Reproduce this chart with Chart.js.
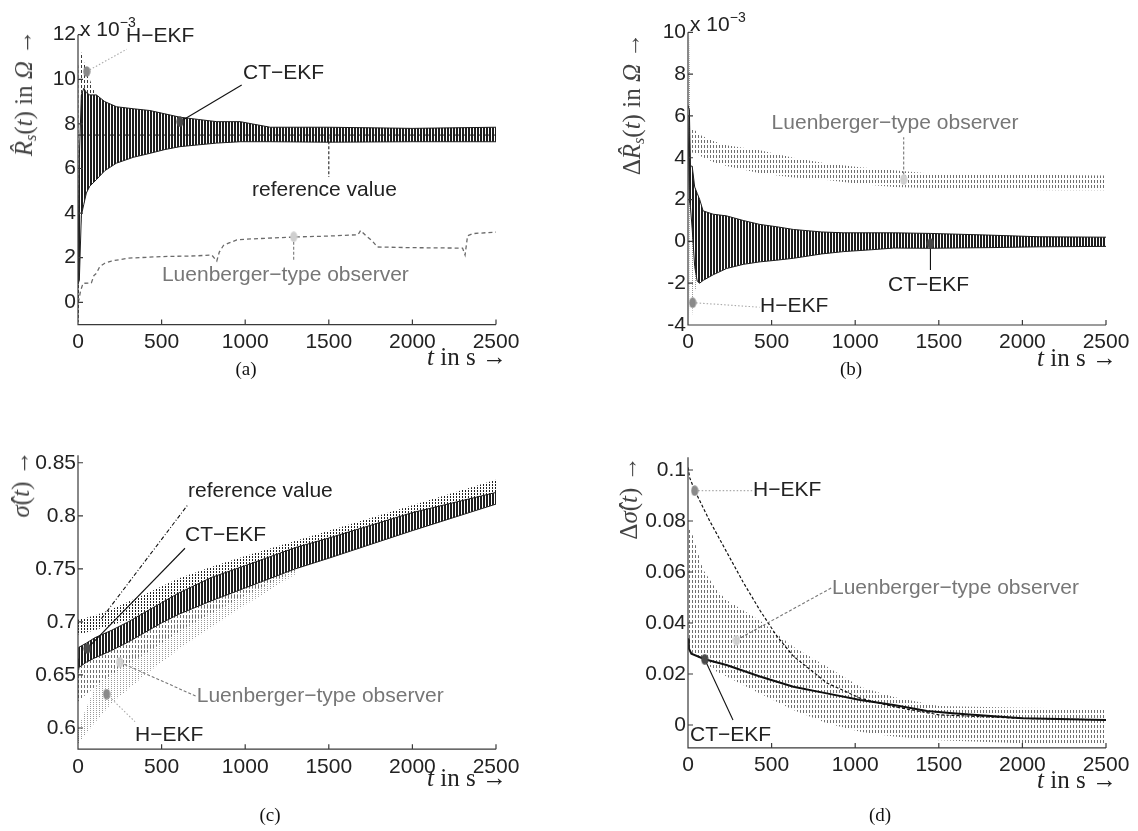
<!DOCTYPE html>
<html>
<head>
<meta charset="utf-8">
<script src="https://cdn.jsdelivr.net/npm/chart.js@4.4.1/dist/chart.umd.min.js"></script>
<style>
  body { margin: 0; background: #fff; }
  #fig { position: relative; width: 1138px; height: 831px; overflow: hidden; font-family: "Liberation Sans", Arial, sans-serif; }
  canvas { position: absolute; }
  .yt, .xt { position: absolute; font-family: "Liberation Serif", "Times New Roman", serif; font-size: 25px; white-space: nowrap; }
  .yt { transform: translate(-50%, -50%) rotate(-90deg); color: #444; }
  .xt { transform: translateY(-50%); color: #222; }
  .yt sub { font-size: 16px; vertical-align: -4px; }
  .cap { position: absolute; font-family: "Liberation Serif", serif; font-size: 19px; transform: translate(-50%, -50%); color: #111; }
  .ex { position: absolute; font-size: 21px; color: #222; transform: translateY(-50%); white-space: nowrap; }
  .ex sup { font-size: 14px; vertical-align: 9px; }
</style>
</head>
<body>
<div id="fig">
  <canvas id="ca" width="569" height="400" style="left:0;top:0"></canvas>
  <canvas id="cb" width="569" height="400" style="left:569px;top:0"></canvas>
  <canvas id="cc" width="569" height="431" style="left:0;top:400px"></canvas>
  <canvas id="cd" width="569" height="431" style="left:569px;top:400px"></canvas>

  <div class="yt" style="left:25px;top:93px"><i>R̂</i><sub><i>s</i></sub>(<i>t</i>) in <i>Ω</i> →</div>
  <div class="yt" style="left:633px;top:104px">Δ<i>R̂</i><sub><i>s</i></sub>(<i>t</i>) in <i>Ω</i> →</div>
  <div class="yt" style="left:21px;top:484px"><i>σ̂</i>(<i>t</i>) →</div>
  <div class="yt" style="left:629px;top:498px">Δ<i>σ̂</i>(<i>t</i>) →</div>

  <div class="xt" style="left:427px;top:357px"><i>t</i> in s →</div>
  <div class="xt" style="left:1037px;top:358px"><i>t</i> in s →</div>
  <div class="xt" style="left:427px;top:778px"><i>t</i> in s →</div>
  <div class="xt" style="left:1037px;top:780px"><i>t</i> in s →</div>

  <div class="ex" style="left:80px;top:27px">x 10<sup>−3</sup></div>
  <div class="ex" style="left:690px;top:22px">x 10<sup>−3</sup></div>

  <div class="cap" style="left:246px;top:369px">(a)</div>
  <div class="cap" style="left:851px;top:369px">(b)</div>
  <div class="cap" style="left:270px;top:815px">(c)</div>
  <div class="cap" style="left:880px;top:815px">(d)</div>
</div>
<script>
// ticks
const tickX = [0, 500, 1000, 1500, 2000, 2500];
const tickYA = [0, 2, 4, 6, 8, 10, 12];
const tickYB = [-4, -2, 0, 2, 4, 6, 8, 10];
const tickYC = [0.6, 0.65, 0.7, 0.75, 0.8, 0.85];
const tickYD = [0, 0.02, 0.04, 0.06, 0.08, 0.1];

// (a) R_s estimate (x 1e-3): oscillation envelopes lo/hi
const aCtT  = [0, 8, 20, 35, 50, 70, 110, 160, 230, 330, 430, 520, 610, 720, 830, 970, 1150, 1500, 2000, 2500];
const aCtLo = [0.8, 1.0, 3.9, 4.4, 4.9, 5.2, 5.5, 5.9, 6.24, 6.5, 6.68, 6.85, 6.98, 7.06, 7.14, 7.2, 7.2, 7.18, 7.2, 7.2];
const aCtHi = [1.3, 6.5, 9.3, 9.6, 9.4, 9.3, 9.3, 9.0, 8.77, 8.68, 8.6, 8.45, 8.3, 8.2, 8.1, 8.1, 7.85, 7.85, 7.8, 7.85];
const aHT  = [0, 4, 10, 20, 35, 52, 70, 100, 150, 200];
const aHLo = [-0.9, -0.9, 1.5, 4.0, 4.6, 5.2, 5.4, 5.6, 6.0, 6.3];
const aHHi = [0.8, 10.5, 11.3, 11.2, 10.8, 10.4, 10.0, 9.4, 9.0, 8.8];
const aRefT = [0, 2500];
const aRefV = [7.5, 7.5];
const aLuT = [0, 5, 15, 30, 80, 95, 110, 130, 160, 200, 300, 500, 700, 800, 830, 845, 870, 900, 950, 1000, 1300, 1500, 1675, 1690, 1720, 1760, 1790, 2000, 2300, 2315, 2330, 2360, 2500];
const aLuV = [0.0, 0.1, 0.5, 0.85, 0.87, 1.2, 1.3, 1.6, 1.75, 1.85, 1.98, 2.05, 2.08, 2.12, 1.85, 2.25, 2.55, 2.65, 2.8, 2.83, 2.93, 2.97, 3.03, 3.22, 3.0, 2.75, 2.48, 2.45, 2.43, 2.12, 2.98, 3.08, 3.15];

// (b) R_s error (x 1e-3)
const bCtT  = [0, 8, 15, 25, 40, 55, 70, 90, 150, 230, 330, 430, 530, 630, 800, 930, 1100, 1230, 1450, 1800, 2100, 2500];
const bCtLo = [6.0, 2.0, 1.6, 0.6, -1.2, -1.9, -2.0, -1.87, -1.6, -1.3, -1.1, -0.98, -0.9, -0.81, -0.6, -0.49, -0.4, -0.32, -0.33, -0.3, -0.26, -0.24];
const bCtHi = [6.5, 6.3, 3.6, 3.6, 2.6, 2.3, 2.0, 1.46, 1.3, 1.22, 1.0, 0.81, 0.7, 0.57, 0.45, 0.41, 0.41, 0.41, 0.38, 0.3, 0.22, 0.2];
const bHT  = [0, 6, 12, 20, 28, 40, 60, 90];
const bHLo = [8.5, 2.0, -3.8, -4.0, -3.2, -2.4, -2.0, -1.87];
const bHHi = [10, 10, 8.0, 4.5, 3.0, 2.6, 2.2, 1.46];
const bLuT  = [12, 30, 70, 150, 230, 430, 630, 830, 1030, 1230, 1430, 1800, 2200, 2500];
const bLuLo = [3.9, 4.3, 4.1, 3.8, 3.6, 3.26, 3.05, 2.93, 2.75, 2.6, 2.55, 2.48, 2.45, 2.45];
const bLuHi = [5.3, 5.4, 5.1, 4.8, 4.6, 4.36, 4.0, 3.73, 3.55, 3.4, 3.26, 3.2, 3.17, 3.15];

// (c) sigma estimate
const cRefT  = [0, 100, 200, 400, 600, 800, 1000, 1500, 2000, 2500];
const cRefLo = [0.688, 0.692, 0.697, 0.706, 0.716, 0.728, 0.74, 0.765, 0.79, 0.815];
const cRefHi = [0.702, 0.706, 0.712, 0.726, 0.741, 0.752, 0.762, 0.786, 0.81, 0.834];
const cCtT  = [0, 5, 50, 100, 200, 300, 400, 500, 600, 800, 1000, 1300, 1500, 2000, 2500];
const cCtLo = [0.655, 0.657, 0.662, 0.666, 0.673, 0.681, 0.69, 0.699, 0.707, 0.72, 0.732, 0.75, 0.76, 0.786, 0.811];
const cCtHi = [0.665, 0.676, 0.68, 0.685, 0.692, 0.70, 0.709, 0.718, 0.727, 0.742, 0.753, 0.77, 0.779, 0.803, 0.822];
const cLuT  = [0, 50, 150, 300, 500, 700, 1000, 1300];
const cLuLo = [0.625, 0.632, 0.645, 0.66, 0.68, 0.70, 0.725, 0.748];
const cLuHi = [0.665, 0.672, 0.68, 0.692, 0.71, 0.727, 0.75, 0.77];
const cHT  = [0, 100, 200, 400, 600, 800, 1000, 1300];
const cHLo = [0.585, 0.605, 0.623, 0.65, 0.674, 0.695, 0.716, 0.745];
const cHHi = [0.60, 0.638, 0.655, 0.68, 0.70, 0.72, 0.74, 0.765];

// (d) sigma error
const dHT = [0, 10, 40, 130, 230, 330, 430, 530, 630, 830, 1030, 1230, 1500, 2000, 2500];
const dHV = [0.101, 0.097, 0.092, 0.080, 0.068, 0.056, 0.045, 0.035, 0.027, 0.0165, 0.0105, 0.0072, 0.004, 0.0026, 0.002];
const dCtT = [0, 5, 20, 100, 230, 430, 630, 830, 1030, 1230, 1430, 1600, 2000, 2500];
const dCtV = [0.034, 0.030, 0.028, 0.0258, 0.0235, 0.019, 0.015, 0.0124, 0.0098, 0.0078, 0.0055, 0.0045, 0.0026, 0.002];
const dLuT  = [0, 10, 30, 90, 170, 230, 430, 630, 830, 1030, 1230, 1500, 2000, 2500];
const dLuHi = [0.077, 0.077, 0.074, 0.061, 0.053, 0.049, 0.041, 0.0307, 0.0229, 0.015, 0.011, 0.0075, 0.0068, 0.0065];
const dLuLo = [0.03, 0.029, 0.028, 0.025, 0.021, 0.019, 0.0124, 0.0059, 0.0007, -0.0026, -0.0045, -0.006, -0.0072, -0.0075];

// label markers: H-EKF, CT-EKF, Luenberger
const markAT = [52, 610, 1290],  markAV = [10.35, 8.1, 2.94];
const markBT = [28, 1450, 1290], markBV = [-2.93, -0.1, 2.96];
const markCT = [171, 56, 250],   markCV = [0.632, 0.675, 0.662];
const markDT = [40, 100, 290],   markDV = [0.0919, 0.0258, 0.0333];

const tickFont = { family: '"Liberation Sans", Arial, sans-serif', size: 21 };
const labelFont = '21px "Liberation Sans", Arial, sans-serif';
const axisColor = '#3a3a3a';
const dark = '#222', grey = '#777';

function pts(t, v) { return t.map((x, i) => ({ x: x, y: v[i] })); }

function stripe(color, w, on, h, hOn) {
  const c = document.createElement('canvas');
  c.width = w; c.height = h;
  const g = c.getContext('2d');
  g.fillStyle = color;
  g.fillRect(0, 0, on, hOn);
  return g.createPattern(c, 'repeat');
}
const ctPat = stripe('#1e1e1e', 3, 2, 1, 1);
const hPat = stripe('#9a9a9a', 3, 1, 2, 1);
const hDarkPat = stripe('#3c3c3c', 3, 1, 5, 3);
const luPat = stripe('#6f6f6f', 3, 1, 5, 3);
const refPat = stripe('#202020', 3, 1, 3, 2);

function ellipse(color) {
  const c = document.createElement('canvas');
  c.width = 8; c.height = 11;
  const g = c.getContext('2d');
  g.fillStyle = color;
  g.beginPath(); g.ellipse(4, 5.5, 3.6, 5.2, 0, 0, Math.PI * 2); g.fill();
  return c;
}
const markStyles = [ellipse('#8a8a8a'), ellipse('#4a4a4a'), ellipse('#cfcfcf')];

function band(t, lo, hi, pat, edge, ew) {
  return [
    { data: pts(t, hi), fill: '+1', backgroundColor: pat, borderColor: edge, borderWidth: ew, pointRadius: 0 },
    { data: pts(t, lo), fill: false, borderColor: edge, borderWidth: ew, pointRadius: 0 }
  ];
}
function line(t, v, color, w, dash) {
  return { data: pts(t, v), fill: false, borderColor: color, borderWidth: w, borderDash: dash, pointRadius: 0 };
}
function marks(t, v) {
  return { data: pts(t, v), showLine: false, pointStyle: markStyles, pointRadius: 5 };
}

const axes = {
  id: 'axes',
  afterDraw(chart) {
    const { ctx, chartArea: a, scales: { x, y } } = chart;
    ctx.save();
    ctx.strokeStyle = axisColor;
    ctx.lineWidth = 1.2;
    ctx.beginPath();
    ctx.moveTo(a.left, a.top); ctx.lineTo(a.left, a.bottom); ctx.lineTo(a.right, a.bottom);
    x.ticks.forEach(tk => {
      const px = x.getPixelForValue(tk.value);
      ctx.moveTo(px, a.bottom); ctx.lineTo(px, a.bottom - 5);
    });
    y.ticks.forEach(tk => {
      const py = y.getPixelForValue(tk.value);
      ctx.moveTo(a.left, py); ctx.lineTo(a.left + 5, py);
    });
    ctx.stroke();
    ctx.restore();
  }
};

function notes(list) {
  return {
    id: 'notes',
    afterDatasetDraw(chart, args) {
      if (args.index !== 1) return;
      const { ctx, scales: { x, y } } = chart;
      ctx.save();
      list.forEach(n => {
        ctx.beginPath();
        ctx.setLineDash(n.dash);
        ctx.strokeStyle = n.stroke;
        ctx.lineWidth = 1.1;
        ctx.moveTo(x.getPixelForValue(n.from[0]), y.getPixelForValue(n.from[1]));
        ctx.lineTo(x.getPixelForValue(n.to[0]), y.getPixelForValue(n.to[1]));
        ctx.stroke();
      });
      ctx.restore();
    },
    afterDatasetsDraw(chart) {
      const { ctx, scales: { x, y } } = chart;
      ctx.save();
      ctx.font = labelFont;
      ctx.textBaseline = 'middle';
      ctx.textAlign = 'left';
      list.forEach(n => {
        ctx.fillStyle = n.color;
        ctx.fillText(n.text, x.getPixelForValue(n.x), y.getPixelForValue(n.y));
      });
      ctx.restore();
    }
  };
}

function build(id, pad, yw, ymin, ymax, yticks, datasets, noteList) {
  return new Chart(document.getElementById(id), {
    type: 'line',
    data: { datasets: datasets },
    options: {
      responsive: false,
      animation: false,
      layout: { padding: pad },
      plugins: { legend: { display: false }, tooltip: { enabled: false } },
      scales: {
        x: {
          type: 'linear', min: 0, max: 2500,
          grid: { display: false, drawTicks: false }, border: { display: false },
          afterBuildTicks: s => { s.ticks = tickX.map(v => ({ value: v })); },
          afterFit: s => { s.height = 40; },
          ticks: { font: tickFont, color: dark, padding: 5, maxRotation: 0, autoSkip: false, callback: v => String(v) }
        },
        y: {
          type: 'linear', min: ymin, max: ymax,
          grid: { display: false, drawTicks: false }, border: { display: false },
          afterBuildTicks: s => { s.ticks = yticks.map(v => ({ value: v })); },
          afterFit: s => { s.width = yw; },
          ticks: { font: tickFont, color: dark, padding: 2, autoSkip: false, callback: v => String(v) }
        }
      }
    },
    plugins: [axes, notes(noteList)]
  });
}

// (a)
build('ca', { left: 0, top: 34.7, right: 73, bottom: 35.4 }, 78, -1, 12, tickYA, [
  marks(markAT, markAV),
  ...band(aCtT, aCtLo, aCtHi, ctPat, '#1e1e1e', 1),
  line(aRefT, aRefV, '#111', 1, [3, 2]),
  ...band(aHT, aHLo, aHHi, hDarkPat, 'rgba(0,0,0,0)', 0),
  line(aLuT, aLuV, '#6a6a6a', 1.3, [4, 3])
], [
  { text: 'H−EKF', color: dark, x: 287, y: 11.94, from: [markAT[0], markAV[0]], to: [292, 11.35], stroke: '#aaa', dash: [1.5, 2] },
  { text: 'CT−EKF', color: dark, x: 987, y: 10.28, from: [markAT[1], markAV[1]], to: [979, 9.74], stroke: '#111', dash: [] },
  { text: 'reference value', color: dark, x: 1041, y: 5.04, from: [1500, 7.45], to: [1500, 5.62], stroke: '#222', dash: [3, 2] },
  { text: 'Luenberger−type observer', color: grey, x: 502, y: 1.22, from: [markAT[2], markAV[2]], to: [1290, 1.82], stroke: grey, dash: [3, 2] }
]);

// (b)
build('cb', { left: 0, top: 32.3, right: 32, bottom: 35 }, 119, -4, 10, tickYB, [
  marks(markBT, markBV),
  ...band(bCtT, bCtLo, bCtHi, ctPat, '#1e1e1e', 1),
  ...band(bHT, bHLo, bHHi, hPat, 'rgba(0,0,0,0)', 0),
  ...band(bLuT, bLuLo, bLuHi, luPat, 'rgba(0,0,0,0)', 0)
], [
  { text: 'Luenberger−type observer', color: grey, x: 500, y: 5.64, from: [markBT[2], markBV[2]], to: [1290, 4.98], stroke: grey, dash: [3, 2] },
  { text: 'H−EKF', color: dark, x: 431, y: -3.12, from: [markBT[0], markBV[0]], to: [428, -3.15], stroke: '#aaa', dash: [1.5, 2] },
  { text: 'CT−EKF', color: dark, x: 1196, y: -2.09, from: [markBT[1], markBV[1]], to: [1450, -1.37], stroke: '#111', dash: [] }
]);

// (c)
build('cc', { left: 0, top: 55.3, right: 73, bottom: 41.8 }, 78, 0.58, 0.857, tickYC, [
  marks(markCT, markCV),
  ...band(cCtT, cCtLo, cCtHi, ctPat, '#1e1e1e', 1),
  ...band(cRefT, cRefLo, cRefHi, refPat, 'rgba(0,0,0,0)', 0),
  ...band(cLuT, cLuLo, cLuHi, luPat, 'rgba(0,0,0,0)', 0),
  ...band(cHT, cHLo, cHHi, hPat, 'rgba(0,0,0,0)', 0)
], [
  { text: 'reference value', color: dark, x: 658, y: 0.8227, from: [140, 0.703], to: [655, 0.810], stroke: '#111', dash: [4, 2, 1, 2] },
  { text: 'CT−EKF', color: dark, x: 640, y: 0.7819, from: [markCT[1], markCV[1]], to: [640, 0.7694], stroke: '#111', dash: [] },
  { text: 'Luenberger−type observer', color: grey, x: 710, y: 0.6295, from: [markCT[2], markCV[2]], to: [705, 0.630], stroke: grey, dash: [3, 2] },
  { text: 'H−EKF', color: dark, x: 341, y: 0.5934, from: [markCT[0], markCV[0]], to: [341, 0.6059], stroke: '#aaa', dash: [1.5, 2] }
]);

// (d)
build('cd', { left: 0, top: 57.25, right: 32, bottom: 43.05 }, 119, -0.009, 0.105, tickYD, [
  marks(markDT, markDV),
  line(dCtT, dCtV, '#111', 2, []),
  line(dHT, dHV, '#111', 1.2, [3, 2]),
  ...band(dLuT, dLuLo, dLuHi, luPat, 'rgba(0,0,0,0)', 0)
], [
  { text: 'H−EKF', color: dark, x: 389, y: 0.0922, from: [markDT[0], markDV[0]], to: [385, 0.0919], stroke: '#aaa', dash: [1.5, 2] },
  { text: 'Luenberger−type observer', color: grey, x: 861, y: 0.0537, from: [markDT[2], markDV[2]], to: [856, 0.0537], stroke: grey, dash: [3, 2] },
  { text: 'CT−EKF', color: dark, x: 12, y: -0.0039, from: [markDT[1], markDV[1]], to: [269, 0.002], stroke: '#111', dash: [] }
]);
</script>
</body>
</html>
